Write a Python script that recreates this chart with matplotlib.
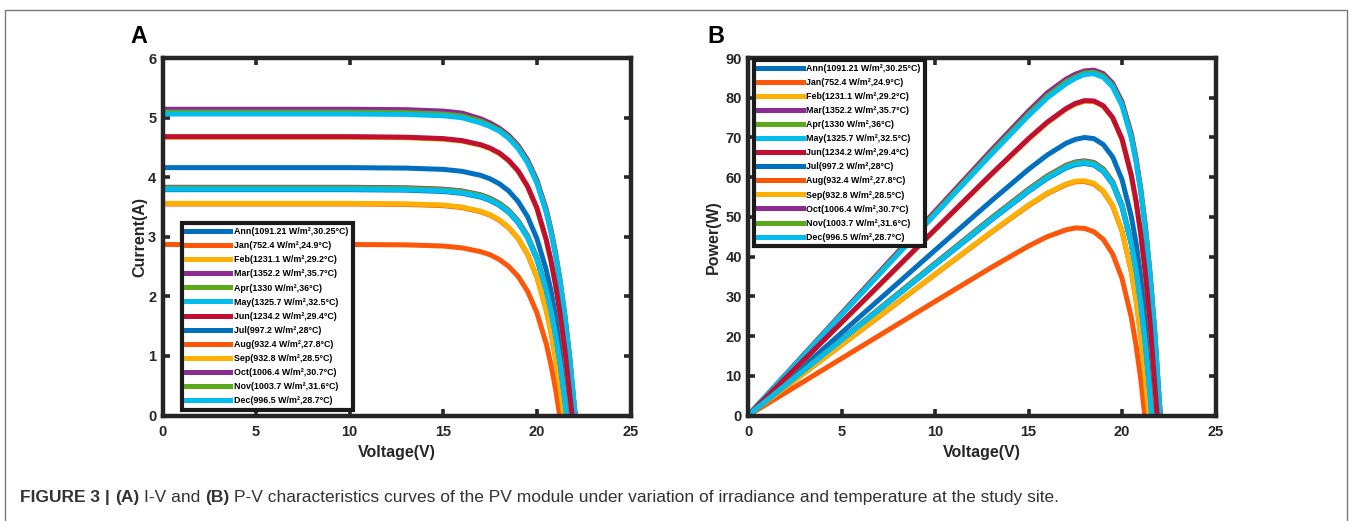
import matplotlib
matplotlib.use("Agg")
import matplotlib.pyplot as plt
from matplotlib.patches import Rectangle

plt.rcParams['font.family'] = ['Liberation Sans', 'DejaVu Sans']
plt.rcParams['font.weight'] = 'bold'
plt.rcParams['axes.labelweight'] = 'bold'

# ---------------- data ----------------
MONTHS = ["Ann", "Jan", "Feb", "Mar", "Apr", "May", "Jun",
          "Jul", "Aug", "Sep", "Oct", "Nov", "Dec"]
IRRADIANCE = ["1091.21", "752.4", "1231.1", "1352.2", "1330", "1325.7", "1234.2",
              "997.2", "932.4", "932.8", "1006.4", "1003.7", "996.5"]
TEMPERATURE = ["30.25", "24.9", "29.2", "35.7", "36", "32.5", "29.4",
               "28", "27.8", "28.5", "30.7", "31.6", "28.7"]

# voltage grid (V) at which currents were read; each curve ends at its Voc
V_GRID = [0, 5, 10, 13, 15, 16, 17, 17.5, 18, 18.5, 19, 19.5, 20, 20.5,
          20.75, 21, 21.25, 21.5, 21.75, 22.0]
VOC = [21.70, 21.22, 21.84, 22.07, 22.04, 22.02, 21.88,
       21.57, 21.40, 21.43, 21.62, 21.60, 21.58]

I_ANN = [4.16, 4.16, 4.16, 4.152, 4.131, 4.098, 4.030, 3.972, 3.888, 3.767, 3.590,
         3.338, 2.970, 2.442, 2.096, 1.676, 1.173, 0.570, 0]
I_JAN = [2.87, 2.87, 2.87, 2.864, 2.844, 2.813, 2.749, 2.698, 2.617, 2.500, 2.333,
         2.086, 1.725, 1.203, 0.855, 0.439, 0]
I_FEB = [4.67, 4.67, 4.67, 4.661, 4.637, 4.605, 4.535, 4.479, 4.394, 4.271, 4.096,
         3.839, 3.474, 2.942, 2.597, 2.181, 1.681, 1.083, 0.361, 0]
I_MAR = [5.14, 5.14, 5.14, 5.133, 5.109, 5.076, 4.980, 4.910, 4.820, 4.700, 4.530,
         4.290, 3.950, 3.459, 3.125, 2.724, 2.244, 1.665, 0.977, 0.147, 0]
I_APR = [5.09, 5.09, 5.09, 5.083, 5.059, 5.026, 4.940, 4.870, 4.790, 4.670, 4.500,
         4.260, 3.920, 3.426, 3.095, 2.698, 2.222, 1.649, 0.967, 0.146, 0]
I_MAY = [5.06, 5.06, 5.06, 5.053, 5.030, 4.997, 4.910, 4.850, 4.770, 4.650, 4.480,
         4.240, 3.900, 3.405, 3.076, 2.682, 2.209, 1.639, 0.961, 0.145, 0]
I_JUN = [4.68, 4.68, 4.68, 4.671, 4.647, 4.614, 4.544, 4.488, 4.404, 4.280, 4.104,
         3.847, 3.482, 2.948, 2.602, 2.186, 1.685, 1.086, 0.362, 0]
I_JUL = [3.79, 3.79, 3.79, 3.782, 3.760, 3.729, 3.665, 3.608, 3.525, 3.407, 3.233,
         2.987, 2.623, 2.100, 1.755, 1.342, 0.845, 0.244, 0]
I_AUG = [3.55, 3.55, 3.55, 3.543, 3.522, 3.490, 3.419, 3.362, 3.273, 3.149, 2.968,
         2.705, 2.322, 1.764, 1.399, 0.955, 0.422, 0]
I_SEP = [3.56, 3.56, 3.56, 3.553, 3.532, 3.499, 3.428, 3.371, 3.282, 3.158, 2.976,
         2.713, 2.328, 1.769, 1.403, 0.958, 0.424, 0]
I_OCT = [3.83, 3.83, 3.83, 3.822, 3.799, 3.769, 3.704, 3.646, 3.562, 3.443, 3.267,
         3.018, 2.650, 2.122, 1.773, 1.356, 0.854, 0.247, 0]
I_NOV = [3.82, 3.82, 3.82, 3.812, 3.789, 3.759, 3.694, 3.637, 3.553, 3.434, 3.258,
         3.010, 2.643, 2.116, 1.769, 1.352, 0.852, 0.246, 0]
I_DEC = [3.80, 3.80, 3.80, 3.792, 3.770, 3.739, 3.675, 3.618, 3.534, 3.416, 3.241,
         2.994, 2.630, 2.105, 1.759, 1.345, 0.847, 0.245, 0]

CURRENTS = [I_ANN, I_JAN, I_FEB, I_MAR, I_APR, I_MAY, I_JUN,
            I_JUL, I_AUG, I_SEP, I_OCT, I_NOV, I_DEC]

X_TICKS = [0, 5, 10, 15, 20, 25]
YA_TICKS = [0, 1, 2, 3, 4, 5, 6]
YB_TICKS = [0, 10, 20, 30, 40, 50, 60, 70, 80, 90]

COLORS = ["#0070BE", "#FF560A", "#FFB000", "#8B2C90", "#5BAA1E", "#00BDEE", "#BF0F32",
          "#0070BE", "#FF560A", "#FFB000", "#8B2C90", "#5BAA1E", "#00BDEE"]

CAPTION = [("FIGURE 3 |", "bold"), ("(A)", "bold"), ("I-V and", "normal"),
           ("(B)", "bold"),
           ("P-V characteristics curves of the PV module under variation of "
            "irradiance and temperature at the study site.", "normal")]

# ---------------- figure ----------------
W, H = 1352, 521
fig = plt.figure(figsize=(W / 100, H / 100), dpi=100)

bg = fig.add_axes([0, 0, 1, 1], zorder=-10)
bg.set_xlim(0, W)
bg.set_ylim(H, 0)
bg.axis('off')
bg.add_patch(Rectangle((4.5, 9.5), 1342, 540, fill=False, edgecolor='#7a7a7a', lw=1.0))

axA = fig.add_axes([162.5 / W, 1 - 415.5 / H, 468 / W, 357.5 / H])
axB = fig.add_axes([748 / W, 1 - 415.5 / H, 467.5 / W, 357.5 / H])

DARK = '#262626'
for i, name in enumerate(MONTHS):
    cur = CURRENTS[i]
    volts = [v for v in V_GRID if v < VOC[i]] + [VOC[i]]
    power = [v * c for v, c in zip(volts, cur)]
    label = f"{name}({IRRADIANCE[i]} W/m\u00b2,{TEMPERATURE[i]}\u00b0C)"
    axA.plot(volts, cur, color=COLORS[i], lw=3.6, label=label,
             solid_joinstyle='round')
    axB.plot(volts, power, color=COLORS[i], lw=3.6, label=label,
             solid_joinstyle='round')

for ax, yt, ylab, ylx in [(axA, YA_TICKS, "Current(A)", (140 - 162.5) / 468),
                          (axB, YB_TICKS, "Power(W)", (713 - 748) / 467.5)]:
    ax.set_xlim(0, 25)
    ax.set_ylim(yt[0], yt[-1])
    ax.set_xticks(X_TICKS)
    ax.set_yticks(yt)
    for s in ax.spines.values():
        s.set_linewidth(3.2)
        s.set_color(DARK)
        s.set_zorder(5)
    ax.tick_params(direction='in', length=5, width=2.6, top=True, right=True,
                   color=DARK, labelcolor=DARK, labelsize=10.5)
    ax.tick_params(axis='x', pad=7)
    ax.tick_params(axis='y', pad=4.5)
    ax.set_xlabel("Voltage(V)", fontsize=11.5, color=DARK)
    ax.set_ylabel(ylab, fontsize=11.5, color=DARK)
    ax.xaxis.label.set_va('center')
    ax.yaxis.label.set_va('center')
    ax.xaxis.set_label_coords(0.5, (415.5 - 452) / 357.5)
    ax.yaxis.set_label_coords(ylx, 0.5)

leg_kw = dict(bbox_transform=fig.transFigure, borderaxespad=0, fontsize=6.4,
              handlelength=5.0, handletextpad=0.4, labelspacing=0.57, borderpad=0.5,
              frameon=True, fancybox=False, edgecolor='#1a1a1a', framealpha=1)
legA = axA.legend(loc='lower left', bbox_to_anchor=(181.5 / W, 1 - 409.5 / H), **leg_kw)
legB = axB.legend(loc='upper left', bbox_to_anchor=(754 / W, 1 - 59.5 / H), **leg_kw)
for leg in (legA, legB):
    leg.get_frame().set_linewidth(3.0)
    leg.set_zorder(6)

bg.text(130.7, 43.3, "A", fontsize=16.8, fontweight='bold', va='baseline', ha='left', color='black')
bg.text(707, 43.3, "B", fontsize=16.8, fontweight='bold', va='baseline', ha='left', color='black')

# caption built piece by piece
prev = bg.text(20, 502, CAPTION[0][0], fontsize=12.5, fontweight=CAPTION[0][1],
               va='baseline', ha='left', color='#333333')
for txt, wt in CAPTION[1:]:
    prev = bg.annotate(txt, xy=(1, 0), xycoords=prev, xytext=(3.5, 0),
                       textcoords='offset points', va='bottom', ha='left',
                       fontsize=12.5, fontweight=wt, color='#333333',
                       annotation_clip=False)

fig.savefig("out.png", dpi=100)
